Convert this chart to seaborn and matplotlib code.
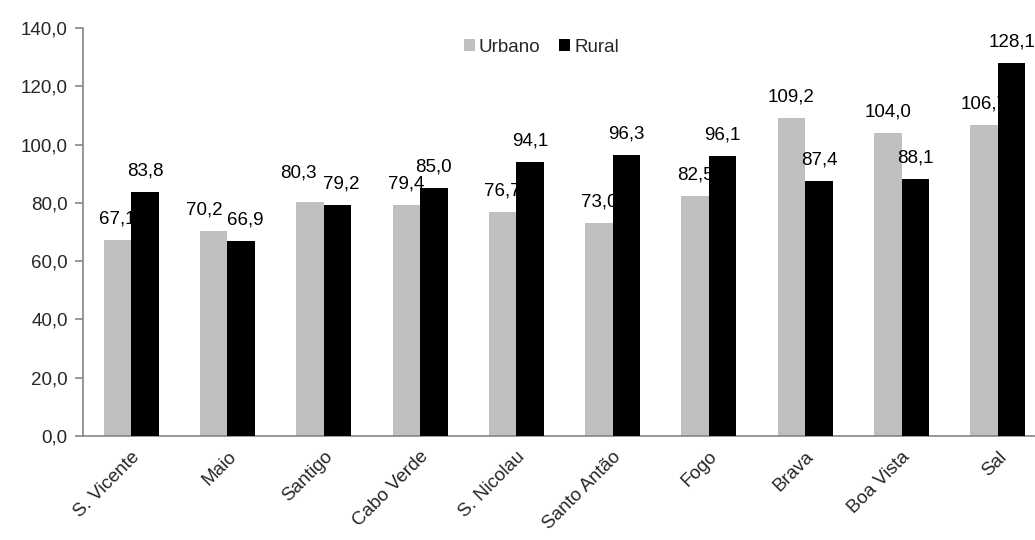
import matplotlib
matplotlib.use("Agg")
import matplotlib.pyplot as plt
import matplotlib.transforms as mtransforms
import seaborn as sns
import pandas as pd

ilhas = ["S. Vicente", "Maio", "Santigo", "Cabo Verde", "S. Nicolau",
         "Santo Antão", "Fogo", "Brava", "Boa Vista", "Sal"]
urbano = [67.1, 70.2, 80.3, 79.4, 76.7, 73.0, 82.5, 109.2, 104.0, 106.7]
rural = [83.8, 66.9, 79.2, 85.0, 94.1, 96.3, 96.1, 87.4, 88.1, 128.1]
series = ["Urbano", "Rural"]
y_ticks = [0, 20, 40, 60, 80, 100, 120, 140]

df = pd.DataFrame({
    "ilha": ilhas * 2,
    "serie": [series[0]] * len(ilhas) + [series[1]] * len(ilhas),
    "valor": urbano + rural,
})

FS = 13.5
sns.set_style("white")
plt.rcParams["font.family"] = ["Liberation Sans", "DejaVu Sans"]
plt.rcParams["font.size"] = FS

fig = plt.figure(figsize=(10.35, 5.4), dpi=100)
ax = fig.add_axes([83 / 1035, (540 - 436) / 540, 963 / 1035, 408 / 540])

sns.barplot(data=df, x="ilha", y="valor", hue="serie", order=ilhas,
            hue_order=series, palette=["#BFBFBF", "#000000"],
            width=0.572, saturation=1, linewidth=0, errorbar=None, ax=ax)

def fmt(v):
    return f"{v:.1f}".replace(".", ",")

# Urban labels sit beneath the rural bars, rural labels on top of everything.
# Where a pair of labels would collide, they are pushed apart (points).
spread = {"Maio": ((-7, 0), (3, 0)), "Santigo": ((-8, 6), (3, 0))}
for i, cont in enumerate(ax.containers):
    for p in cont.patches:
        p.set_zorder(2 if i == 0 else 4)
    vals = urbano if i == 0 else rural
    txts = ax.bar_label(cont, labels=[fmt(v) for v in vals], padding=9,
                        fontsize=FS, color="#000000")
    for name, t in zip(ilhas, txts):
        t.set_zorder(3 if i == 0 else 5)
        if name in spread:
            dx, dy = spread[name][i]
            t.xyann = (t.xyann[0] + dx, t.xyann[1] + dy)

ax.set_ylim(0, 140)
ax.set_xlim(-0.5, len(ilhas) - 0.5)
ax.set_yticks(y_ticks)
ax.set_yticklabels([fmt(v) for v in y_ticks])
ax.set_xlabel("")
ax.set_ylabel("")

for s in ["top", "right"]:
    ax.spines[s].set_visible(False)
for s in ["left", "bottom"]:
    ax.spines[s].set_color("#868686")
    ax.spines[s].set_linewidth(1.2)

ax.set_xticks([x - 0.5 for x in range(len(ilhas) + 1)], minor=True)
ax.tick_params(axis="x", which="major", length=0, pad=6)
ax.tick_params(axis="x", which="minor", length=6, color="#868686", width=1.2,
               direction="out")
ax.tick_params(axis="y", length=6, color="#868686", width=1.2, direction="out",
               left=True, pad=5)
ax.set_xticks(range(len(ilhas)))
ax.set_xticklabels(ilhas, rotation=45, ha="right", rotation_mode="anchor")
shift = mtransforms.ScaledTranslation(0.0, -0.04, fig.dpi_scale_trans)
for lab in ax.get_xticklabels():
    lab.set_transform(lab.get_transform() + shift)

ax.legend(loc="upper center", bbox_to_anchor=(0.476, 1.015), ncol=2, frameon=False,
          handlelength=0.6, handleheight=0.6, handletextpad=0.2,
          columnspacing=1.0, fontsize=FS)

fig.savefig("out.png", dpi=100)
